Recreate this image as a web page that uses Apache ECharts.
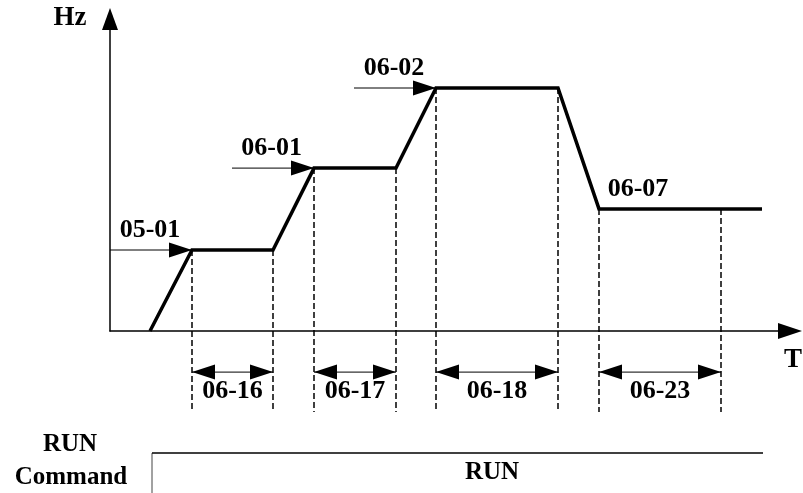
<!DOCTYPE html>
<html>
<head>
<meta charset="utf-8">
<script src="https://cdn.jsdelivr.net/npm/echarts@6/dist/echarts.min.js"></script>
<style>
  html, body { margin: 0; padding: 0; background: #fff; }
  #main { width: 803px; height: 493px; }
</style>
</head>
<body>
<div id="main"></div>
<script>
// 频率曲线 (时间 / 频率)
var timePts = [10, 20.5, 40.75, 51, 71.5, 81.5, 112, 122.25, 163];
var hzPts = [0, 27, 27, 54.3, 54.3, 81, 81, 40.7, 40.7];

// 虚线位置
var dashT = [20.5, 40.75, 51, 71.5, 81.5, 112, 122.25, 152.75];
var dashTop = [27, 27, 54.3, 54.3, 81, 81, 40.7, 40.7];
var dashBottom = -27;

// 时间参数 (双箭头)
var spanLabels = ['06-16', '06-17', '06-18', '06-23'];
var spanFrom = [20.5, 51, 81.5, 122.25];
var spanTo = [40.75, 71.5, 112, 152.75];
var spanLevel = -13.7;

// 频率参数
var freqLabels = ['05-01', '06-01', '06-02', '06-07'];
var freqLabelT = [10, 40.4, 71, 132];
var freqLevel = [27, 54.3, 81, 40.7];
var arrowFrom = [0, 30.5, 61];
var arrowTo = [20.5, 51, 81.5];

// RUN 指令
var runStart = 10.5;
var runEnd = 163.25;
var runTop = -40.7;
var runBottom = -54;

var FONT = 'Liberation Serif';
var chart = echarts.init(document.getElementById('main'));

function tri(tipX, tipY, dir) {
  // dir: 1 指向右, -1 指向左
  return {
    type: 'polygon',
    shape: { points: [[tipX, tipY], [tipX - dir * 23, tipY - 7.5], [tipX - dir * 23, tipY + 7.5]] },
    style: { fill: '#000' }
  };
}

var curveData = timePts.map(function (t, i) { return [t, hzPts[i]]; });

var option = {
  backgroundColor: '#fff',
  animation: false,
  grid: { left: 110, top: 19, width: 680, bottom: 162 },
  xAxis: {
    type: 'value',
    min: 0,
    max: 170,
    axisLine: { show: true, symbol: ['none', 'triangle'], symbolSize: [16, 24], lineStyle: { color: '#000', width: 1.5 } },
    axisTick: { show: false },
    axisLabel: { show: false },
    splitLine: { show: false }
  },
  yAxis: {
    type: 'value',
    min: 0,
    max: 104,
    axisLine: { show: true, symbol: ['none', 'triangle'], symbolSize: [16, 22], lineStyle: { color: '#000', width: 1.5 } },
    axisTick: { show: false },
    axisLabel: { show: false },
    splitLine: { show: false }
  },
  graphic: [
    { type: 'text', x: 70, y: 18, style: { text: 'Hz', font: 'bold 27px "' + FONT + '"', fill: '#000', align: 'center', verticalAlign: 'middle' } },
    { type: 'text', x: 793, y: 360, style: { text: 'T', font: 'bold 27px "' + FONT + '"', fill: '#000', align: 'center', verticalAlign: 'middle' } },
    { type: 'text', x: 70, y: 445, style: { text: 'RUN', font: 'bold 25px "' + FONT + '"', fill: '#000', align: 'center', verticalAlign: 'middle' } },
    { type: 'text', x: 71, y: 478, style: { text: 'Command', font: 'bold 25px "' + FONT + '"', fill: '#000', align: 'center', verticalAlign: 'middle' } },
    { type: 'text', x: 492, y: 473, style: { text: 'RUN', font: 'bold 25px "' + FONT + '"', fill: '#000', align: 'center', verticalAlign: 'middle' } }
  ],
  series: [
    {
      // 虚线
      type: 'custom',
      clip: false,
      silent: true,
      z: 1,
      data: dashT.map(function (t, i) { return [t, dashTop[i]]; }),
      renderItem: function (params, api) {
        var p1 = api.coord([api.value(0), api.value(1)]);
        var p2 = api.coord([api.value(0), dashBottom]);
        return {
          type: 'line',
          shape: { x1: p1[0], y1: p1[1], x2: p2[0], y2: p2[1] },
          style: { stroke: '#000', lineWidth: 1.5, lineDash: [6, 3] }
        };
      }
    },
    {
      // 时间参数双箭头
      type: 'custom',
      clip: false,
      silent: true,
      z: 2,
      data: spanFrom.map(function (t, i) { return [t, spanLevel, spanTo[i]]; }),
      renderItem: function (params, api) {
        var p1 = api.coord([api.value(0), api.value(1)]);
        var p2 = api.coord([api.value(2), api.value(1)]);
        return {
          type: 'group',
          children: [
            { type: 'line', shape: { x1: p1[0], y1: p1[1], x2: p2[0], y2: p2[1] }, style: { stroke: '#000', lineWidth: 1 } },
            tri(p1[0], p1[1], -1),
            tri(p2[0], p2[1], 1),
            {
              type: 'text',
              x: (p1[0] + p2[0]) / 2,
              y: p1[1] + 19,
              style: { text: spanLabels[params.dataIndex], font: 'bold 26px "' + FONT + '"', fill: '#000', align: 'center', verticalAlign: 'middle' }
            }
          ]
        };
      }
    },
    {
      // 频率参数箭头
      type: 'custom',
      clip: false,
      silent: true,
      z: 2,
      data: arrowFrom.map(function (t, i) { return [t, freqLevel[i], arrowTo[i]]; }),
      renderItem: function (params, api) {
        var p1 = api.coord([api.value(0), api.value(1)]);
        var p2 = api.coord([api.value(2), api.value(1)]);
        return {
          type: 'group',
          children: [
            { type: 'line', shape: { x1: p1[0], y1: p1[1], x2: p2[0], y2: p2[1] }, style: { stroke: '#000', lineWidth: 1 } },
            tri(p2[0], p2[1], 1)
          ]
        };
      }
    },
    {
      // 频率参数文字
      type: 'custom',
      clip: false,
      silent: true,
      z: 2,
      data: freqLabelT.map(function (t, i) { return [t, freqLevel[i]]; }),
      renderItem: function (params, api) {
        var p = api.coord([api.value(0), api.value(1)]);
        return {
          type: 'text',
          x: p[0],
          y: p[1] - 20,
          style: { text: freqLabels[params.dataIndex], font: 'bold 26px "' + FONT + '"', fill: '#000', align: 'center', verticalAlign: 'middle' }
        };
      }
    },
    {
      // RUN 指令
      type: 'custom',
      clip: false,
      silent: true,
      data: [[runStart, runTop, runEnd, runBottom]],
      renderItem: function (params, api) {
        var a = api.coord([api.value(0), api.value(3)]);
        var b = api.coord([api.value(0), api.value(1)]);
        var c = api.coord([api.value(2), api.value(1)]);
        return {
          type: 'group',
          children: [
            { type: 'line', shape: { x1: a[0], y1: a[1], x2: b[0], y2: b[1] }, style: { stroke: '#444', lineWidth: 1 } },
            { type: 'line', shape: { x1: b[0], y1: b[1], x2: c[0], y2: c[1] }, style: { stroke: '#000', lineWidth: 1.5 } }
          ]
        };
      }
    },
    {
      type: 'line',
      data: curveData,
      showSymbol: false,
      symbol: 'none',
      z: 5,
      lineStyle: { color: '#000', width: 3.5, join: 'miter' }
    }
  ]
};
chart.setOption(option);
</script>
</body>
</html>
